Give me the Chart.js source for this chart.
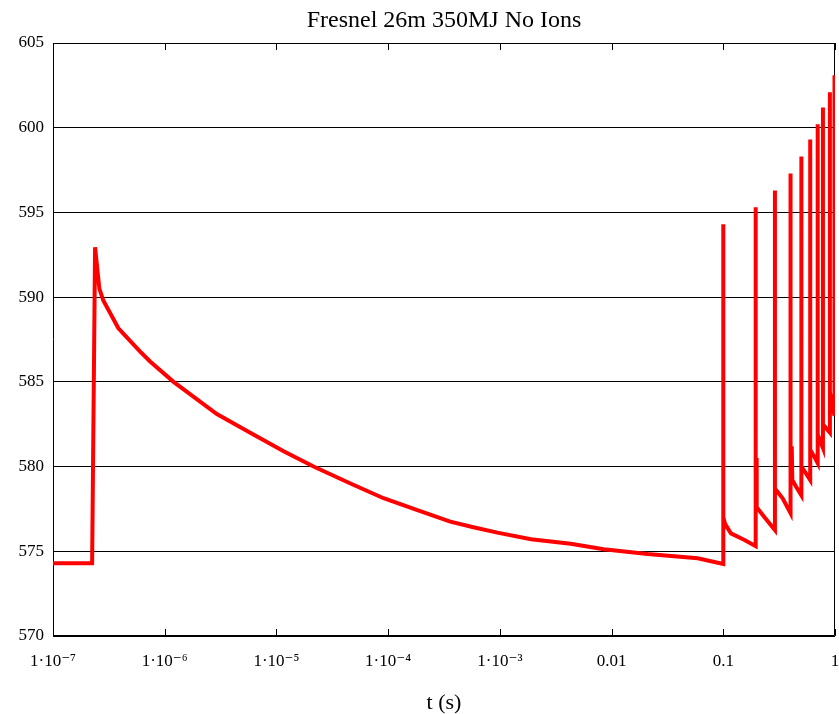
<!DOCTYPE html>
<html>
<head>
<meta charset="utf-8">
<script src="https://cdn.jsdelivr.net/npm/chart.js@4.4.1/dist/chart.umd.min.js"></script>
<style>
  html, body { margin: 0; padding: 0; background: #fff; }
  #wrap { width: 839px; height: 714px; }
</style>
</head>
<body>
<div id="wrap"><canvas id="fresnelChart" width="839" height="714"></canvas></div>
<script>
// time (s) and value
const tSec = [
    1e-7, 2.24e-7, 2.38e-7, 2.6e-7, 2.82e-7, 3.85e-7, 6.0e-7, 7.4e-7, 1.2e-6, 2.93e-6,
    5.83e-6, 1.16e-5, 2.15e-5, 4.6e-5, 9.1e-5, 1.8e-4, 3.6e-4, 5.8e-4, 9.5e-4, 1.9e-3,
    4.3e-3, 8.5e-3, 0.021, 0.059, 0.1,
    // pulses
    0.1, 0.1, 0.104, 0.117, 0.155, 0.195,
    0.195, 0.195, 0.198, 0.199, 0.232, 0.29,
    0.29, 0.29, 0.34, 0.4,
    0.4, 0.4, 0.41, 0.415, 0.45, 0.5,
    0.5, 0.5, 0.55, 0.6,
    0.6, 0.6, 0.65, 0.7,
    0.7, 0.7, 0.78,
    0.78, 0.78, 0.9,
    0.9, 0.9, 0.99,
    0.99, 0.99
];
const yValues = [
    574.3, 574.3, 592.95, 590.5, 589.8, 588.16, 586.8, 586.2, 585.0, 583.1,
    582.0, 580.9, 580.0, 579.0, 578.13, 577.44, 576.75, 576.42, 576.1, 575.71,
    575.45, 575.12, 574.84, 574.59, 574.25,
    594.3, 577.0, 576.6, 576.06, 575.67, 575.3,
    595.3, 577.6, 580.5, 577.6, 577.04, 576.25,
    596.3, 578.7, 578.13, 577.25,
    597.3, 579.3, 581.2, 579.2, 578.8, 578.3,
    598.3, 580.0, 579.6, 579.2,
    599.3, 581.0, 580.6, 580.2,
    600.2, 581.9, 581.1,
    601.2, 582.5, 582.0,
    602.1, 584.4, 583.0,
    603.1, 583.5
];
const xTicks = [1e-7, 1e-6, 1e-5, 1e-4, 1e-3, 0.01, 0.1, 1];
const xTickLabels = ['1·10⁻⁷', '1·10⁻⁶', '1·10⁻⁵', '1·10⁻⁴', '1·10⁻³', '0.01', '0.1', '1'];

const serif = '"Liberation Serif", "DejaVu Serif", serif';

// box round the plot + inward ticks on the time axis
const framePlugin = {
    id: 'frame',
    beforeDatasetsDraw(c) {
        const { ctx, chartArea: a, scales: { x } } = c;
        ctx.save();
        ctx.strokeStyle = '#000';
        ctx.lineWidth = 1;
        ctx.beginPath();
        ctx.rect(a.left + 0.5, a.top + 0.5, a.right - a.left - 1, a.bottom - a.top - 1);
        xTicks.forEach(v => {
            const px = Math.round(x.getPixelForValue(v)) + 0.5;
            ctx.moveTo(px, a.bottom); ctx.lineTo(px, a.bottom - 7);
            ctx.moveTo(px, a.top); ctx.lineTo(px, a.top + 7);
        });
        ctx.stroke();
        ctx.restore();
    }
};

const ctx = document.getElementById('fresnelChart').getContext('2d');
const chart = new Chart(ctx, {
    type: 'line',
    data: {
        datasets: [{
            data: tSec.map((t, i) => ({ x: t, y: yValues[i] })),
            borderColor: '#ff0000',
            borderWidth: 4,
            pointRadius: 0,
            tension: 0,
            fill: false
        }]
    },
    options: {
        responsive: false,
        animation: false,
        layout: { padding: 0 },
        plugins: {
            legend: { display: false },
            tooltip: { enabled: false },
            title: {
                display: true,
                fullSize: false,   // centre over the plot, not the canvas
                text: 'Fresnel 26m 350MJ No Ions',
                color: '#000',
                font: { family: serif, size: 24, weight: 'normal' },
                padding: { top: 6, bottom: 8.2 }
            }
        },
        scales: {
            x: {
                type: 'logarithmic',
                min: 1e-7,
                max: 1,
                afterBuildTicks: s => { s.ticks = xTicks.map(v => ({ value: v })); },
                afterFit: s => { s.height = 78; s.paddingLeft = 0; s.paddingRight = 4; },
                grid: { display: false },
                border: { display: false },
                ticks: {
                    autoSkip: false,
                    maxRotation: 0,
                    color: '#000',
                    padding: 7,
                    font: { family: serif, size: 17 },
                    callback: (v, i) => xTickLabels[i]
                },
                title: {
                    display: true,
                    text: 't (s)',
                    color: '#000',
                    font: { family: serif, size: 22, lineHeight: 1 },
                    padding: { top: 4, bottom: 0 }
                }
            },
            y: {
                min: 570,
                max: 605,
                afterFit: s => { s.width = 53; },
                grid: { color: '#000', lineWidth: 1, drawTicks: false },
                border: { display: false },
                ticks: {
                    stepSize: 5,
                    color: '#000',
                    padding: 9,
                    font: { family: serif, size: 17 }
                }
            }
        }
    },
    plugins: [framePlugin]
});
</script>
</body>
</html>
